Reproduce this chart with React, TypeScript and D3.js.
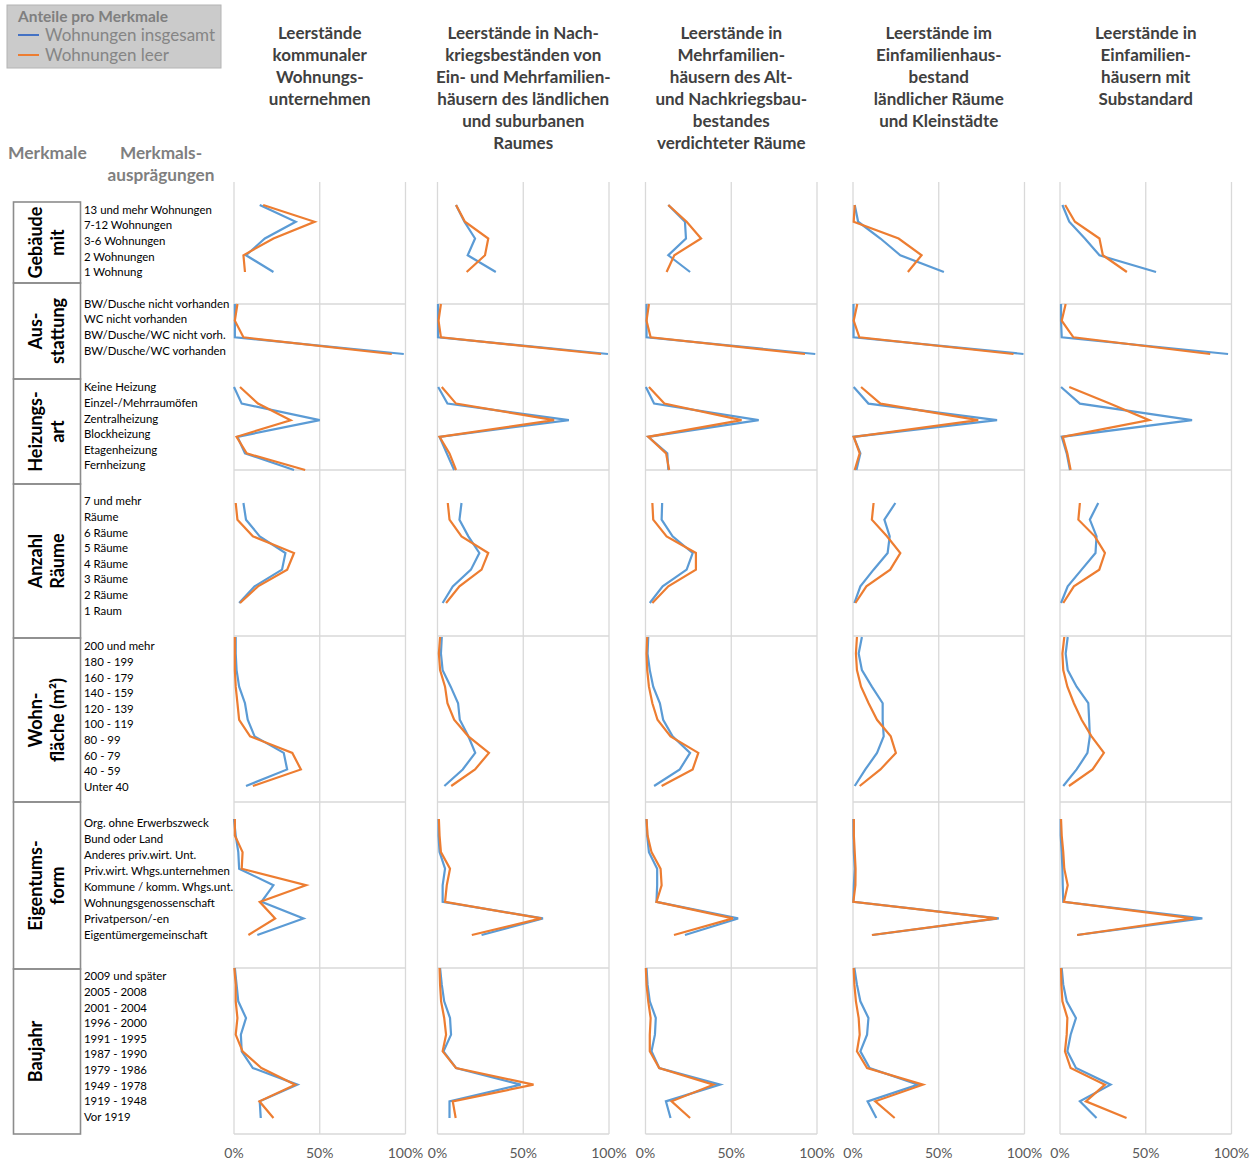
import * as d3 from 'd3'

const panelTitles = [
  ['Leerstände', 'kommunaler', 'Wohnungs-', 'unternehmen'],
  ['Leerstände in Nach-', 'kriegsbeständen von', 'Ein- und Mehrfamilien-', 'häusern des ländlichen', 'und suburbanen', 'Raumes'],
  ['Leerstände in', 'Mehrfamilien-', 'häusern des Alt-', 'und Nachkriegsbau-', 'bestandes', 'verdichteter Räume'],
  ['Leerstände im', 'Einfamilienhaus-', 'bestand', 'ländlicher Räume', 'und Kleinstädte'],
  ['Leerstände in', 'Einfamilien-', 'häusern mit', 'Substandard'],
]

const xTicks = [0, 50, 100]

const gebaeudeCats = ['13 und mehr Wohnungen', '7-12 Wohnungen', '3-6 Wohnungen', '2 Wohnungen', '1 Wohnung']
const gebaeudeTotal = [
  [15, 36, 18, 7, 23],
  [10.8, 15.7, 21.9, 17.6, 34],
  [13.3, 23, 23.6, 13.3, 26],
  [1, 3, 16, 27.6, 53],
  [1.4, 5.4, 14.5, 23, 56],
]
const gebaeudeLeer = [
  [17, 47, 23, 5.5, 6.4],
  [10.8, 16, 29.6, 27.7, 17],
  [13.3, 24, 32.4, 16.8, 12.3],
  [1, 0.4, 26.6, 40, 32],
  [3, 8.7, 23, 25, 39],
]

const ausstattungCats = ['BW/Dusche nicht vorhanden', 'WC nicht vorhanden', 'BW/Dusche/WC nicht vorh.', 'BW/Dusche/WC vorhanden']
const ausstattungTotal = [
  [0.5, 0.5, 0.5, 99],
  [0.3, 0.3, 0.3, 99.4],
  [0.6, 0.6, 0.6, 99],
  [0.3, 0.3, 0.3, 99.4],
  [0.6, 0.6, 1, 98],
]
const ausstattungLeer = [
  [2, 0.5, 5.5, 92],
  [2, 0.6, 2, 95.4],
  [2, 0.6, 3, 93],
  [2.5, 0.4, 3.7, 93.6],
  [3.3, 1, 7.8, 87.6],
]

const heizungCats = ['Keine Heizung', 'Einzel-/Mehrraumöfen', 'Zentralheizung', 'Blockheizung', 'Etagenheizung', 'Fernheizung']
const heizungTotal = [
  [0, 4.5, 50, 2, 6.4, 35],
  [0.4, 5.8, 76.6, 1.2, 5.4, 9.7],
  [0.2, 5, 66, 1.6, 12.7, 13.3],
  [0.4, 9, 84, 0.4, 4.3, 2],
  [0.6, 11.6, 77, 1, 3.9, 5.8],
]
const heizungLeer = [
  [3.5, 14, 33, 1.5, 7.4, 41.5],
  [2.5, 10.8, 68, 1.2, 7, 10.8],
  [2, 11, 56, 1.6, 12, 13.8],
  [4.7, 16, 73, 0.4, 3.9, 1],
  [5.4, 29, 52, 1.6, 4.3, 6.2],
]

const raeumeCats = ['7 und mehr\nRäume', '6 Räume', '5 Räume', '4 Räume', '3 Räume', '2 Räume', '1 Raum']
const raeumeTotal = [
  [5.5, 7, 15, 30, 28, 12, 3],
  [14, 12.8, 18, 24.4, 19.5, 8.9, 3],
  [9.7, 9.4, 15.8, 27.5, 24, 10, 2.5],
  [24.7, 18.3, 21.4, 20.2, 12, 4.3, 0.8],
  [22.3, 17.4, 21.3, 20.7, 12.6, 4.5, 0.6],
]
const raeumeLeer = [
  [1, 2, 11, 35, 31, 14, 3.5],
  [6, 7, 14, 29.6, 25.7, 12.8, 5],
  [4, 4.5, 12.3, 29.4, 29.4, 13.3, 4],
  [12, 11, 19.8, 27.6, 21.7, 7.8, 1.4],
  [11.6, 10.7, 20.3, 26.2, 22.9, 8.1, 1.9],
]

const flaecheCats = ['200 und mehr', '180 - 199', '160 - 179', '140 - 159', '120 - 139', '100 - 119', '80 - 99', '60 - 79', '40 - 59', 'Unter 40']
const flaecheTotal = [
  [1, 1, 1.5, 3, 6.4, 8, 12, 29, 31, 7],
  [2.5, 2, 3, 7.7, 12, 13, 18, 22, 14.7, 4],
  [1.6, 1.2, 2.5, 4.5, 8.4, 10.3, 15.8, 26, 20, 5],
  [5.2, 3.3, 5.2, 11, 17.3, 17.3, 17.9, 14, 7.2, 1],
  [4.5, 3.3, 4.5, 9.7, 16.5, 17, 17.4, 16, 9.7, 1.9],
]
const flaecheLeer = [
  [0.5, 0.5, 0.5, 1, 2, 3, 9.4, 34, 39, 11],
  [1.5, 0.8, 1.5, 4.4, 5.8, 9.7, 18, 30, 21.9, 8],
  [1, 0.6, 1, 2, 4, 7, 14.6, 30.8, 27.5, 9.4],
  [2.3, 1.7, 2.3, 4.7, 9.1, 14, 22, 25, 16, 3.9],
  [2.5, 1.4, 1.9, 4.3, 8.1, 12.6, 18.4, 25.6, 19, 5.2],
]

const eigentumCats = ['Org. ohne Erwerbszweck', 'Bund oder Land', 'Anderes priv.wirt. Unt.', 'Priv.wirt. Whgs.unternehmen', 'Kommune / komm. Whgs.unt.', 'Wohnungsgenossenschaft', 'Privatperson/-en', 'Eigentümergemeinschaft']
const eigentumTotal = [
  [0, 1, 2.5, 3, 23, 16, 40.5, 13.6],
  [0.6, 0.6, 1.2, 4.4, 3, 3, 61.5, 25.7],
  [0.6, 1, 2, 6.8, 6.8, 6.4, 54, 23],
  [0.2, 0.3, 0.5, 1, 0.5, 0.2, 85, 11.5],
  [0.4, 0.4, 1, 1.4, 1.6, 1.9, 83, 10],
]
const eigentumLeer = [
  [0.5, 0.5, 5, 4.5, 42, 15, 24, 8.4],
  [0.8, 1.2, 2, 7.3, 5.4, 4.4, 60.5, 20],
  [0.6, 1.2, 3.5, 8.8, 9.4, 6.4, 51, 16.6],
  [0.5, 0.5, 1, 1.5, 1.4, 0.2, 84, 11],
  [0.6, 1, 1.9, 2.5, 4.5, 2.3, 77.5, 10],
]

const baujahrCats = ['2009 und später', '2005 - 2008', '2001 - 2004', '1996 - 2000', '1991 - 1995', '1987 - 1990', '1979 - 1986', '1949 - 1978', '1919 - 1948', 'Vor 1919']
const baujahrTotal = [
  [0.5, 1.5, 2.5, 7, 4, 4.5, 11, 37, 15, 15.6],
  [1.5, 2.5, 3.9, 7.3, 7.9, 3.5, 10.8, 48.5, 7, 7],
  [0.6, 1.2, 2.5, 6, 5.5, 3.5, 8, 43.5, 11.9, 14.6],
  [0.8, 2.3, 4.3, 9, 8.2, 4.3, 9.7, 38, 8.5, 13.6],
  [1, 1.9, 3.9, 9.3, 6.2, 4.3, 9.3, 29.5, 11.6, 21.3],
]
const baujahrLeer = [
  [0.2, 1, 1, 2, 1, 5, 16, 35.7, 14.8, 23],
  [1.2, 1.5, 2.1, 3.9, 5, 3, 10.8, 56, 8.9, 10.6],
  [0.2, 0.6, 1.6, 3, 2.5, 2.5, 8, 39.6, 15.2, 26],
  [0.4, 0.8, 1.7, 3.3, 3.9, 2.3, 8.2, 40.8, 13, 24.3],
  [0.6, 0.8, 1.4, 4.3, 3.9, 2.9, 6.2, 26.2, 15.1, 38.8],
]

// layout
const W = 1255
const H = 1163
const FONT = 'Lato, "Open Sans", sans-serif'
const BLUE = '#5b9bd5'
const ORANGE = '#ed7d31'
const GRID = '#d9d9d9'
const panelLeft = [234, 437.5, 645.5, 853, 1060]
const panelW = 171.5
const gridTop = 182
const gridRows = [304, 470, 636, 802, 968, 1134]
const labelX = 84
const labelStep = 15.6

const groups = [
  { name: ['Gebäude', 'mit'], cats: gebaeudeCats, total: gebaeudeTotal, leer: gebaeudeLeer, box: [202, 283], pts: [205, 272], labelY: 211 },
  { name: ['Aus-', 'stattung'], cats: ausstattungCats, total: ausstattungTotal, leer: ausstattungLeer, box: [283, 379], pts: [304, 354], labelY: 305 },
  { name: ['Heizungs-', 'art'], cats: heizungCats, total: heizungTotal, leer: heizungLeer, box: [379, 484], pts: [387, 470], labelY: 388.5 },
  { name: ['Anzahl', 'Räume'], cats: raeumeCats, total: raeumeTotal, leer: raeumeLeer, box: [484, 638], pts: [503, 603], labelY: 502.5 },
  { name: ['Wohn-', 'fläche (m²)'], cats: flaecheCats, total: flaecheTotal, leer: flaecheLeer, box: [638, 802], pts: [637, 786], labelY: 647.5 },
  { name: ['Eigentums-', 'form'], cats: eigentumCats, total: eigentumTotal, leer: eigentumLeer, box: [802, 969], pts: [819, 935], labelY: 824.5, step: 16 },
  { name: ['Baujahr'], cats: baujahrCats, total: baujahrTotal, leer: baujahrLeer, box: [969, 1134], pts: [968, 1118], labelY: 977.5 },
]

const App = () => {
  const panels = panelLeft.map(left => d3.scaleLinear().domain([0, 100]).range([left, left + panelW]))

  return (
    <svg width={W} height={H} style={{ position: 'absolute', left: 0, top: 0, background: '#fff' }} fontFamily={FONT}>
      {/* legend */}
      <rect x={7} y={5} width={214} height={63} fill="#cbcbcb" stroke="#b4b4b4" />
      <text x={18} y={18} fontSize={15.5} fontWeight={700} fill="#7f7f7f" dominantBaseline="middle">Anteile pro Merkmale</text>
      <line x1={18} x2={39} y1={35} y2={35} stroke="#4472c4" strokeWidth={2} />
      <text x={45} y={37} fontSize={17} fill="#858585" dominantBaseline="middle">Wohnungen insgesamt</text>
      <line x1={18} x2={39} y1={55} y2={55} stroke={ORANGE} strokeWidth={2} />
      <text x={45} y={57} fontSize={17} fill="#858585" dominantBaseline="middle">Wohnungen leer</text>

      {/* left headers */}
      <text x={8} y={155} fontSize={17.5} fontWeight={700} fill="#7f7f7f" dominantBaseline="middle">Merkmale</text>
      <text x={161} y={155} fontSize={17.2} fontWeight={700} fill="#7f7f7f" textAnchor="middle" dominantBaseline="middle">Merkmals-</text>
      <text x={161} y={177} fontSize={17.2} fontWeight={700} fill="#7f7f7f" textAnchor="middle" dominantBaseline="middle">ausprägungen</text>

      {/* panel titles */}
      {panelTitles.map((lines, i) => (
        <text key={i} fontSize={17} fontWeight={700} fill="#404040" textAnchor="middle">
          {lines.map((l, j) => (
            <tspan key={j} x={panels[i](50)} y={34.5 + j * 22} dominantBaseline="middle">{l}</tspan>
          ))}
        </text>
      ))}

      {/* gridlines */}
      {panels.map((x, i) => (
        <g key={i} stroke={GRID} strokeWidth={1.3}>
          {xTicks.map(t => (
            <line key={t} x1={x(t)} x2={x(t)} y1={gridTop} y2={gridRows[gridRows.length - 1]} />
          ))}
          {gridRows.map(r => (
            <line key={r} x1={x(0)} x2={x(100)} y1={r} y2={r} />
          ))}
        </g>
      ))}

      {/* tick labels */}
      {panels.map((x, i) => (
        <g key={i}>
          {xTicks.map(t => (
            <text key={t} x={x(t)} y={1154} fontSize={14} fill="#595959" textAnchor="middle" dominantBaseline="middle">{t}%</text>
          ))}
        </g>
      ))}

      {groups.map((g, gi) => {
        const y = d3.scalePoint<string>().domain(g.cats).range(g.pts as [number, number])
        const labelLines = g.cats.flatMap(c => c.split('\n'))
        const step = g.step ?? labelStep
        const cy = (g.box[0] + g.box[1]) / 2
        return (
          <g key={gi}>
            <rect x={13.5} y={g.box[0]} width={67} height={g.box[1] - g.box[0]} fill="none" stroke="#8c8c8c" strokeWidth={1.6} />
            <text transform={`translate(37,${cy}) rotate(-90)`} fontSize={18} fontWeight={700} fill="#000" textAnchor="middle">
              {g.name.map((n, k) => (
                <tspan key={k} x={0} y={k * 22.5} dominantBaseline="middle">{n}</tspan>
              ))}
            </text>
            {labelLines.map((l, k) => (
              <text key={k} x={labelX} y={g.labelY + k * step} fontSize={11.4} fill="#000" dominantBaseline="middle">{l}</text>
            ))}
            {panels.map((x, pi) => {
              const line = d3.line<number>().x(v => x(v)).y((_, k) => y(g.cats[k]) ?? 0)
              return (
                <g key={pi} fill="none" strokeWidth={2.2} strokeLinejoin="miter">
                  <path d={line(g.total[pi]) ?? ''} stroke={BLUE} />
                  <path d={line(g.leer[pi]) ?? ''} stroke={ORANGE} />
                </g>
              )
            })}
          </g>
        )
      })}
    </svg>
  )
}

export default App
